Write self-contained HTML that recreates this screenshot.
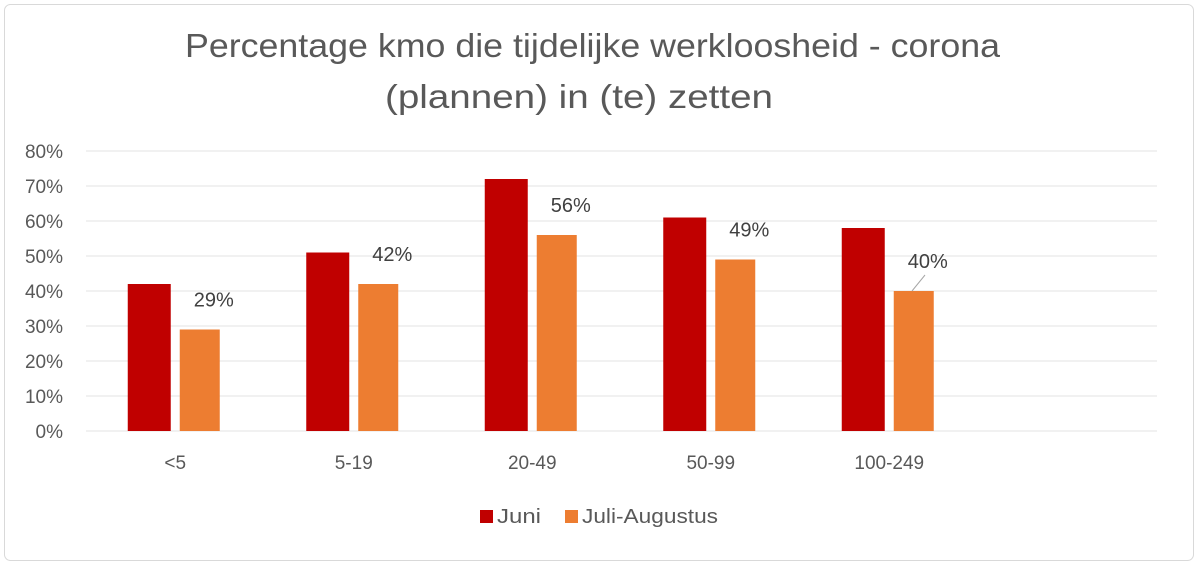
<!DOCTYPE html>
<html><head><meta charset="utf-8"><style>
body{margin:0;background:#fff;font-family:"Liberation Sans",sans-serif;}
svg text{font-family:"Liberation Sans",sans-serif;}
</style></head><body>
<svg width="1200" height="570" xmlns="http://www.w3.org/2000/svg">
<rect x="4.5" y="4.5" width="1189" height="556" rx="6" fill="#fff" stroke="#d9d9d9"/>
<text x="185" y="57" textLength="815" lengthAdjust="spacingAndGlyphs" font-size="33" fill="#595959">Percentage kmo die tijdelijke werkloosheid - corona</text>
<text x="385" y="108" textLength="388" lengthAdjust="spacingAndGlyphs" font-size="33" fill="#595959">(plannen) in (te) zetten</text>
<g id="grid"></g><g id="bars"></g><g id="labels"></g>
<line x1="925" y1="275" x2="912" y2="291" stroke="#a6a6a6" stroke-width="1"/>
<rect x="480" y="510" width="13" height="13" fill="#c00000"/>
<text x="497" y="523" textLength="44" lengthAdjust="spacingAndGlyphs" font-size="20" fill="#595959">Juni</text>
<rect x="565" y="510" width="13" height="13" fill="#ed7d31"/>
<text x="582" y="523" textLength="136" lengthAdjust="spacingAndGlyphs" font-size="20" fill="#595959">Juli-Augustus</text>
</svg>
<script>
const categories=["<5","5-19","20-49","50-99","100-249",""];
const juni=[42,51,72,61,58];
const juli=[29,42,56,49,40];
const ticks=[0,10,20,30,40,50,60,70,80];
const NS="http://www.w3.org/2000/svg";
const L=86,R=1157,Y0=431,PX=3.5;
const slot=(R-L)/categories.length;
const y=v=>Y0-v*PX;
const cx=i=>L+slot*(i+0.5);
function mk(tag,a,p){const e=document.createElementNS(NS,tag);for(const k in a)e.setAttribute(k,a[k]);document.getElementById(p).appendChild(e);return e;}
ticks.forEach(t=>{
 const l=mk("line",{x1:L,x2:R,y1:y(t),y2:y(t),stroke:"#e3e3e3","stroke-width":1},"grid");
 
 
 const tx=mk("text",{x:63,y:y(t)+7,"text-anchor":"end","font-size":19,fill:"#595959"},"grid");
 tx.textContent=t+"%";
 
 
});
categories.forEach((c,i)=>{
 const tx=mk("text",{x:cx(i),y:469,"text-anchor":"middle","font-size":19,fill:"#595959"},"grid");
 tx.textContent=c;
 
 
});
const bw=43,gap=9;
juni.forEach((v,i)=>{
 const b=mk("rect",{x:cx(i)-gap/2-bw,y:y(v),width:bw,height:v*PX,fill:"#c00000"},"bars");
 
 
});
juli.forEach((v,i)=>{
 const bx=cx(i)+gap/2;
 const b=mk("rect",{x:bx,y:y(v),width:40,height:v*PX,fill:"#ed7d31"},"bars");
 
 
 const tx=mk("text",{x:bx+34,y:y(v)-23,"text-anchor":"middle","font-size":20,fill:"#404040"},"labels");
 tx.textContent=v+"%";
 
 
});
</script>
</body></html>
